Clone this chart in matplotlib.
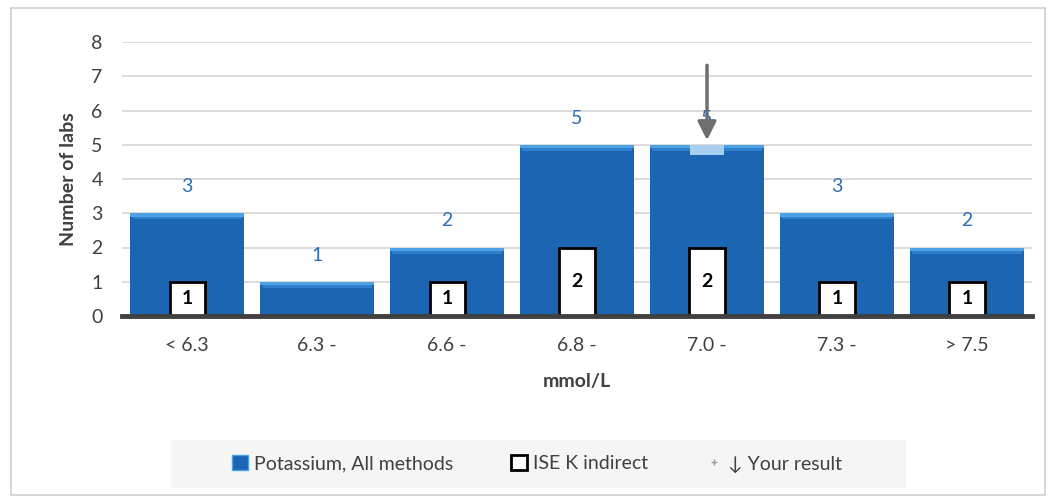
import matplotlib.pyplot as plt
import numpy as np
from matplotlib.patches import Rectangle, Patch
from matplotlib.lines import Line2D

plt.rcParams['font.family'] = ['Lato', 'DejaVu Sans']

# data
categories = ['< 6.3', '6.3 -', '6.6 -', '6.8 -', '7.0 -', '7.3 -', '> 7.5']
all_methods = [3, 1, 2, 5, 5, 3, 2]
ise_indirect = [1, 0, 1, 2, 2, 1, 1]
your_result_idx = 4

blue = '#1C65B2'
blue_top = '#4DA2E6'
label_blue = '#2E6DB8'
dark = '#404040'

fig = plt.figure(figsize=(10.53, 5.0), dpi=100)
ax = fig.add_axes([0.116, 0.368, 0.864, 0.548])

x = np.arange(len(categories))
ax.bar(x, all_methods, width=0.88, color=blue, zorder=2)
# lighter bevel strip on the top of each bar
ax.bar(x, [0.1]*len(x), bottom=np.array(all_methods) - 0.1, width=0.88,
       color=blue_top, zorder=3)
ax.bar(x, [0.08]*len(x), bottom=np.array(all_methods) - 0.18, width=0.84,
       color='#2F7FCC', zorder=3)

# highlight on your result bar
ax.bar(x[your_result_idx], 0.3, bottom=all_methods[your_result_idx] - 0.3,
       width=0.26, color='#A9CFF0', zorder=4)

ise_mask = np.array(ise_indirect) > 0
ax.bar(x[ise_mask], np.array(ise_indirect)[ise_mask], width=0.27, color='white',
       edgecolor='black', linewidth=2, zorder=5)

for xi, v in zip(x, all_methods):
    ax.text(xi, v + 0.78, str(v), ha='center', va='center', color=label_blue,
            fontsize=14, zorder=6)
for xi, v in zip(x, ise_indirect):
    if v > 0:
        ax.text(xi, v / 2, str(v), ha='center', va='center', color='black',
                fontsize=14, fontweight='bold', zorder=6)

# your result arrow
ax.annotate('', xy=(x[your_result_idx], all_methods[your_result_idx] + 0.05),
            xytext=(x[your_result_idx], 7.4),
            arrowprops=dict(arrowstyle='-|>', color='#6E6E6E', lw=2.5,
                            mutation_scale=28), zorder=7)

ax.set_xlim(-0.5, len(categories) - 0.5)
ax.set_ylim(0, 8)
ax.set_yticks(range(0, 9))
ax.set_xticks(x)
ax.set_xticklabels(categories)
ax.tick_params(axis='both', length=0, labelsize=14, colors=dark)
ax.tick_params(axis='x', pad=15)
ax.tick_params(axis='y', pad=14)
ax.yaxis.grid(True, color='#D9D9D9', linewidth=1.3, zorder=0)
ax.set_axisbelow(True)
for s in ['top', 'right', 'left']:
    ax.spines[s].set_visible(False)
ax.spines['bottom'].set_color(dark)
ax.spines['bottom'].set_linewidth(3.5)
ax.spines['bottom'].set_zorder(8)

ax.set_ylabel('Number of labs', fontsize=14, fontweight='bold', color=dark,
              labelpad=10)
ax.set_xlabel('mmol/L', fontsize=14, fontweight='bold', color=dark, labelpad=14)

# legend background band
fig.patches.append(Rectangle((0.162, 0.024), 0.698, 0.096, transform=fig.transFigure,
                             facecolor='#F5F5F5', edgecolor='none', zorder=0))

handles = [Patch(facecolor=blue, edgecolor=blue_top),
           Patch(facecolor='white', edgecolor='black', linewidth=2),
           Line2D([], [], marker='+', color='#9A9A9A', linestyle='none',
                  markersize=5)]
labels = ['Potassium, All methods', 'ISE K indirect', '\u2193 Your result']
leg = fig.legend(handles, labels, loc='center', bbox_to_anchor=(0.51, 0.072),
                 ncol=3, frameon=False, fontsize=14, handlelength=0.8,
                 handleheight=0.8, handletextpad=0.3, columnspacing=3.0,
                 labelcolor=dark)

# outer chart frame
fig.patches.append(Rectangle((0.010, 0.010), 0.982, 0.975, transform=fig.transFigure,
                             fill=False, edgecolor='#D0D0D0', linewidth=1.2))

fig.savefig('out.png', dpi=100)
